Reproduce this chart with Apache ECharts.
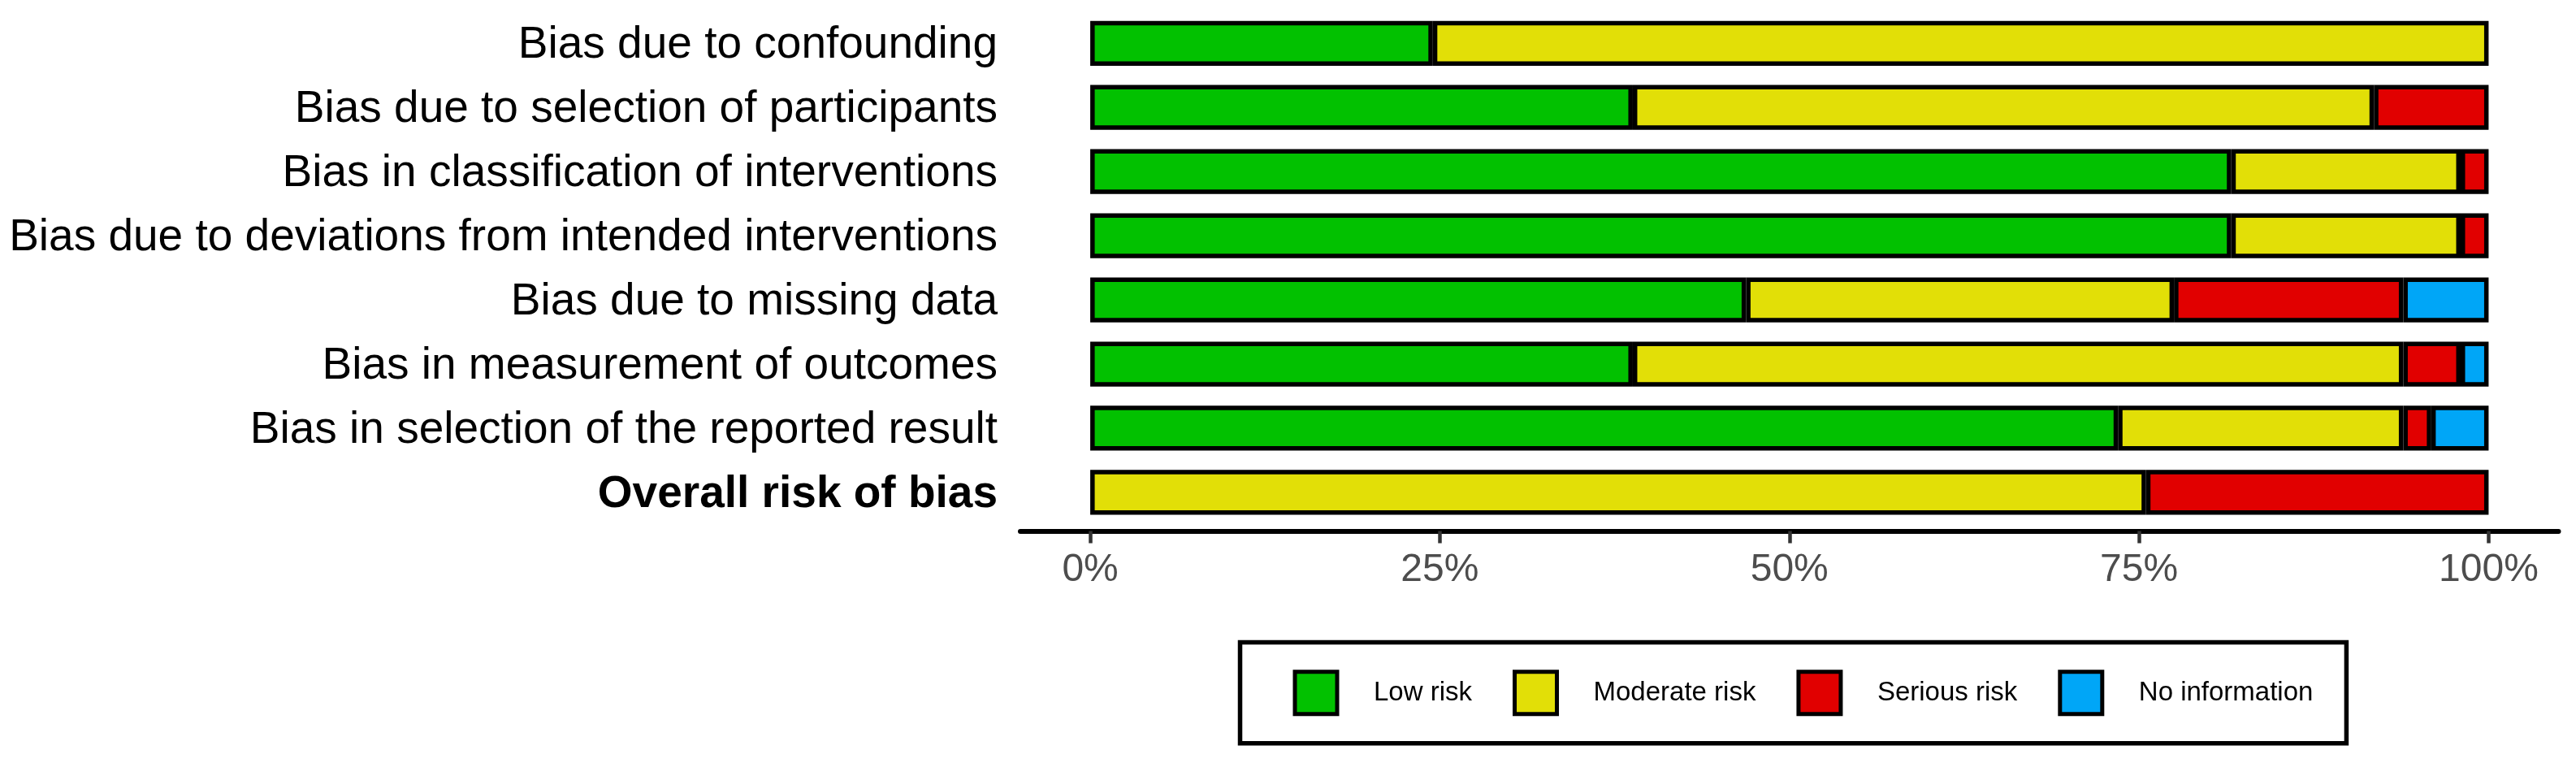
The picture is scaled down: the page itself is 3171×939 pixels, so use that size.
<!DOCTYPE html>
<html>
<head>
<meta charset="utf-8">
<script src="https://cdn.jsdelivr.net/npm/echarts@6/dist/echarts.min.js"></script>
<style>
  html, body { margin: 0; padding: 0; background: #fff; }
  #chart { width: 3171px; height: 939px; }
</style>
</head>
<body>
<div id="chart"></div>
<script>
// Domains, top to bottom
const categories = [
  'Bias due to confounding',
  'Bias due to selection of participants',
  'Bias in classification of interventions',
  'Bias due to deviations from intended interventions',
  'Bias due to missing data',
  'Bias in measurement of outcomes',
  'Bias in selection of the reported result',
  'Overall risk of bias'
];
// Percent of studies per judgement
const lowRisk      = [24.5, 38.8, 81.6, 81.6, 46.9, 38.8, 73.5, 0];
const moderateRisk = [75.5, 53.0, 16.4, 16.4, 30.6, 55.1, 20.4, 75.5];
const seriousRisk  = [0,    8.2,  2.0,  2.0,  16.4, 4.1,  2.0,  24.5];
const noInfo       = [0,    0,    0,    0,    6.1,  2.0,  4.1,  0];
const seriesNames  = ['Low risk', 'Moderate risk', 'Serious risk', 'No information'];
const tickValues   = [0, 25, 50, 75, 100];

const colors = ['#02C100', '#E2DF07', '#E10000', '#00A6F7'];
const values = [lowRisk, moderateRisk, seriousRisk, noInfo];

const chart = echarts.init(document.getElementById('chart'), null, { renderer: 'canvas' });

const series = seriesNames.map((name, i) => ({
  name: name,
  type: 'bar',
  stack: 'total',
  barWidth: '70%',
  // empty segments are not drawn
  data: values[i].map(v => (v === 0 ? '-' : v)),
  itemStyle: { color: colors[i], borderColor: '#000', borderWidth: 5.5 },
  emphasis: { disabled: true }
}));

chart.setOption({
  animation: false,
  backgroundColor: '#fff',
  textStyle: { fontFamily: '"Liberation Sans", Arial, sans-serif' },
  grid: {
    left: 1256, right: 21.5, top: 13.8, height: 631.6,
    containLabel: false, outerBoundsMode: 'none'
  },
  xAxis: {
    type: 'value',
    min: -5, max: 105,
    offset: 8,
    splitLine: { show: false },
    axisLine: { show: true, lineStyle: { color: '#000', width: 6 } },
    axisTick: { show: true, customValues: tickValues, length: 15, lineStyle: { color: '#333', width: 4.5 } },
    axisLabel: {
      customValues: tickValues,
      formatter: v => v + '%',
      fontSize: 48, color: '#4D4D4D', margin: 24,
      fontFamily: '"Liberation Sans", Arial, sans-serif'
    }
  },
  yAxis: {
    type: 'category',
    data: categories,
    inverse: true,
    axisLine: { show: false, onZero: false },
    axisTick: { show: false },
    splitLine: { show: false },
    axisLabel: {
      fontSize: 55, color: '#000', margin: 28,
      padding: [6, 0, 0, 0],
      fontFamily: '"Liberation Sans", Arial, sans-serif',
      formatter: v => v === 'Overall risk of bias' ? '{b|' + v + '}' : v,
      rich: { b: { fontWeight: 'bold', fontSize: 55, color: '#000', fontFamily: '"Liberation Sans", Arial, sans-serif' } }
    }
  },
  legend: {
    data: seriesNames,
    left: 1526.5, top: 790.5,
    orient: 'horizontal',
    padding: [33.7, 41, 33.5, 65],
    itemGap: 50,
    itemWidth: 52, itemHeight: 52,
    icon: 'rect',
    itemStyle: { borderColor: '#000', borderWidth: 5 },
    borderColor: '#000', borderWidth: 5.5, backgroundColor: '#fff',
    selectedMode: false,
    textStyle: {
      fontSize: 33, color: '#000', padding: [0, 0, 0, 40],
      fontFamily: '"Liberation Sans", Arial, sans-serif'
    }
  },
  series: series
});
</script>
</body>
</html>
